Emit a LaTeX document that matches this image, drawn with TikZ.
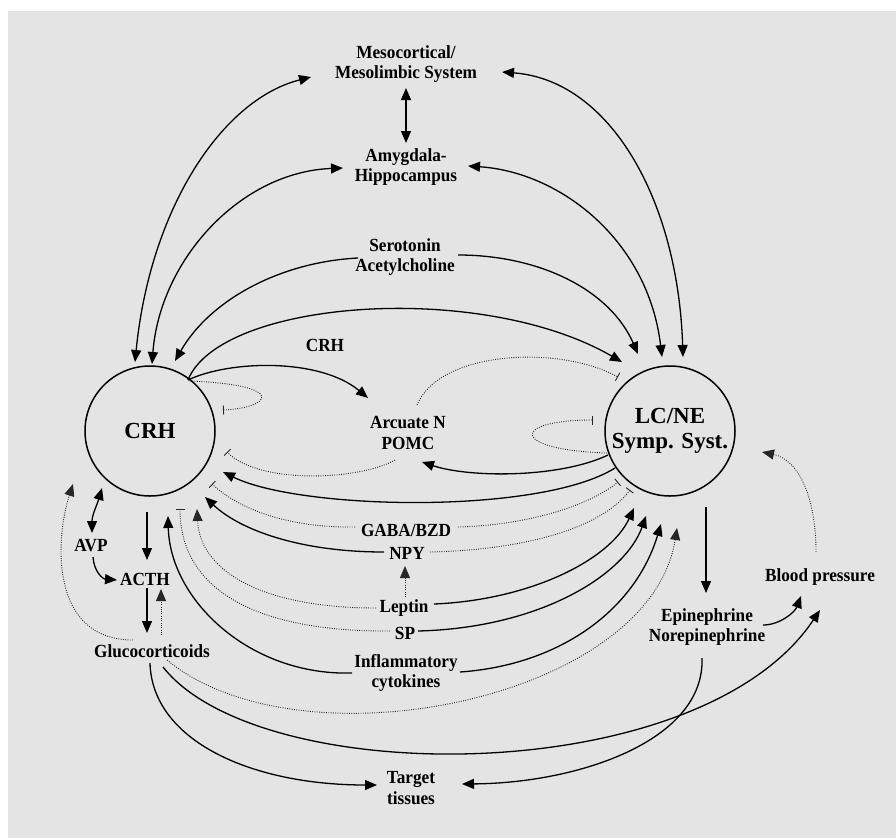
\documentclass[tikz,border=0pt]{standalone}
\usepackage{fontspec}
\setmainfont[FakeStretch=0.93]{Liberation Serif}
\newfontfamily\plainser{Liberation Serif}
\usetikzlibrary{arrows.meta}
\definecolor{bg}{RGB}{228,228,228}
\begin{document}
\begin{tikzpicture}[x=1pt,y=-1pt,
  lbl/.style={font=\fontsize{18.5}{20.5}\selectfont\bfseries, align=center, inner sep=0pt},
  big/.style={circle, draw, line width=1.5pt, minimum size=130pt, inner sep=0pt, align=center, font=\plainser\fontsize{23}{25}\selectfont\bfseries},
  sol/.style={line width=1.3pt},
  dot/.style={line width=0.9pt, dash pattern=on 0.9pt off 1.4pt, black!85},
  ar/.style={-{Triangle[length=12pt,width=10pt]}},
  arr/.style={{Triangle[length=12pt,width=10pt]}-{Triangle[length=12pt,width=10pt]}},
  tb/.style={-{Bar[width=9pt,line width=0.9pt]}},
]
\fill[white] (0,0) rectangle (896,838);
\fill[bg] (8,11) rectangle (896,838);
\useasboundingbox (0,0) rectangle (896,838);

% nodes
\node[lbl] (meso) at (406,64) {Mesocortical/\\Mesolimbic System};
\node[lbl] (amyg) at (406,167) {Amygdala-\\Hippocampus};
\node[lbl] (sero) at (405,257) {Serotonin\\Acetylcholine};
\node[lbl] (crhl) at (325,345) {CRH};
\node[lbl] (arc) at (408,433) {Arcuate N\\POMC};
\node[big] (crh) at (150,431) {CRH};
\node[big] (lc) at (670,431) {LC/NE\\Symp. Syst.};
\node[lbl] (gaba) at (406,530) {GABA/BZD};
\node[lbl] (npy) at (407,553) {NPY};
\node[lbl] (lep) at (404,608) {Leptin};
\node[lbl] (sp) at (405,633) {SP};
\node[lbl] (infl) at (406,673) {Inflammatory\\cytokines};
\node[lbl] (avp) at (91,546) {AVP};
\node[lbl] (acth) at (145,579) {ACTH};
\node[lbl] (gluc) at (152,651) {Glucocorticoids};
\node[lbl] (tgt) at (411,788) {Target\\tissues};
\node[lbl] (epi) at (707,627) {Epinephrine\\Norepinephrine};
\node[lbl] (bp) at (820,577) {Blood pressure};

% top connections
\draw[sol,arr] ([shift={(0,24)}]meso.center) -- ([shift={(0,-24)}]amyg.center);
\draw[sol,arr] ([shift={(-15,-69)}]crh.center) .. controls (150,210) and (221,100) .. ([shift={(-95,13)}]meso.center);
\draw[sol,arr] ([shift={(2,-67)}]crh.center) .. controls (160,260) and (240,172) .. ([shift={(-63,1)}]amyg.center);
\draw[sol,ar] ([shift={(-47,1)}]sero.center) .. controls (280,262) and (210,300) .. ([shift={(25,-70)}]crh.center);
\draw[sol,ar] ([shift={(53,-2)}]sero.center) .. controls (540,255) and (610,290) .. ([shift={(-32,-77)}]lc.center);
\draw[sol,arr] ([shift={(62,-1)}]amyg.center) .. controls (560,172) and (648,240) .. ([shift={(-8,-74)}]lc.center);
\draw[sol,arr] ([shift={(96,8)}]meso.center) .. controls (610,80) and (678,200) .. ([shift={(13,-74)}]lc.center);

% CRH - LC - Arcuate
\draw[sol,ar] ([shift={(38,-51)}]crh.center) .. controls (220,300) and (480,280) .. ([shift={(-48,-69)}]lc.center);
\draw[sol,ar] ([shift={(38,-51)}]crh.center) .. controls (230,360) and (320,358) .. ([shift={(-40,-35)}]arc.center);
\draw[dot,tb] ([shift={(40,-50)}]crh.center) .. controls (290,385) and (270,408) .. ([shift={(73,-21)}]crh.center);
\draw[dot,tb] ([shift={(-13,27)}]arc.center) .. controls (360,480) and (260,485) .. ([shift={(77,21)}]crh.center);
\draw[dot,tb] ([shift={(9,-28)}]arc.center) .. controls (440,350) and (560,345) .. ([shift={(-52,-54)}]lc.center);
\draw[sol,ar] ([shift={(-62,24)}]lc.center) .. controls (560,478) and (470,478) .. ([shift={(14,29)}]arc.center);
\draw[dot,tb] ([shift={(-63,22)}]lc.center) .. controls (510,450) and (510,420) .. ([shift={(-77,-11)}]lc.center);
\draw[sol,ar] ([shift={(-55,37)}]lc.center) .. controls (540,515) and (300,510) .. ([shift={(73,41)}]crh.center);

% GABA, NPY, Leptin, SP, cytokines
\draw[dot,tb] ([shift={(-51,-3)}]gaba.center) .. controls (290,528) and (240,510) .. ([shift={(62,53)}]crh.center);
\draw[dot,tb] ([shift={(52,-3)}]gaba.center) .. controls (530,525) and (590,505) .. ([shift={(-52,51)}]lc.center);
\draw[sol,ar] ([shift={(-23,-1)}]npy.center) .. controls (300,552) and (240,530) .. ([shift={(55,66)}]crh.center);
\draw[dot,tb] ([shift={(23,-1)}]npy.center) .. controls (520,550) and (600,530) .. ([shift={(-40,59)}]lc.center);
\draw[dot,ar] ([shift={(1,-11)}]lep.center) -- ([shift={(-2,13)}]npy.center);
\draw[dot,ar] ([shift={(-28,0)}]lep.center) .. controls (260,608) and (200,570) .. ([shift={(47,78)}]crh.center);
\draw[dot,tb] ([shift={(-15,-2)}]sp.center) .. controls (240,632) and (180,580) .. ([shift={(30,78)}]crh.center);
\draw[sol,ar] ([shift={(-54,0)}]infl.center) .. controls (250,676) and (170,600) .. ([shift={(18,85)}]crh.center);
\draw[sol,ar] ([shift={(30,-4)}]lep.center) .. controls (530,600) and (610,560) .. ([shift={(-36,77)}]lc.center);
\draw[sol,ar] ([shift={(13,-2)}]sp.center) .. controls (540,628) and (625,575) .. ([shift={(-24,85)}]lc.center);
\draw[sol,ar] ([shift={(54,-1)}]infl.center) .. controls (560,665) and (635,610) .. ([shift={(-9,93)}]lc.center);

% glucocorticoids
\draw[dot,ar] ([shift={(15,9)}]gluc.center) .. controls (300,770) and (650,700) .. ([shift={(7,97)}]lc.center);
\draw[sol,ar] ([shift={(11,16)}]gluc.center) .. controls (260,790) and (700,790) .. ([shift={(0,33)}]bp.center);
\draw[sol,ar] ([shift={(-2,12)}]gluc.center) .. controls (152,740) and (250,785) .. ([shift={(-34,-3)}]tgt.center);
\draw[dot,ar] ([shift={(-19,-11)}]gluc.center) .. controls (50,640) and (55,540) .. ([shift={(-77,53)}]crh.center);

% right side
\draw[sol,ar] ([shift={(-5,31)}]epi.center) .. controls (705,740) and (580,783) .. ([shift={(51,-4)}]tgt.center);
\draw[sol,ar] ([shift={(56,-2)}]epi.center) .. controls (780,625) and (795,612) .. ([shift={(-19,19)}]bp.center);
\draw[dot,ar] ([shift={(-4,-25)}]bp.center) .. controls (816,500) and (800,460) .. ([shift={(92,21)}]lc.center);
\draw[sol,ar] ([shift={(36,76)}]lc.center) -- ([shift={(-1,-34)}]epi.center);

% HPA axis
\draw[sol,ar] ([shift={(-3,81)}]crh.center) -- ([shift={(2,-19)}]acth.center);
\draw[sol,arr] ([shift={(-48,57)}]crh.center) .. controls (97,505) and (92,515) .. ([shift={(1,-13)}]avp.center);
\draw[sol,ar] ([shift={(2,11)}]avp.center) .. controls (94,572) and (103,579) .. ([shift={(-28,1)}]acth.center);
\draw[sol,ar] ([shift={(2,9)}]acth.center) -- ([shift={(-5,-18)}]gluc.center);
\draw[dot,ar] ([shift={(9,-16)}]gluc.center) -- ([shift={(16,10)}]acth.center);
\end{tikzpicture}
\end{document}
